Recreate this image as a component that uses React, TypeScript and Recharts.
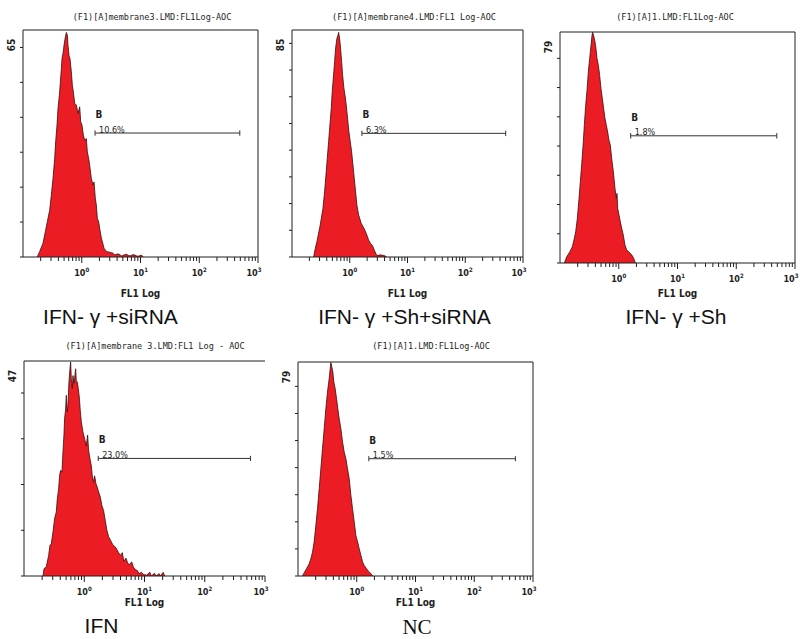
import { AreaChart, Area, XAxis, YAxis, ReferenceLine } from 'recharts';

// log10(FL1) positions and event counts
const ifnSirnaLog = [-0.76, -0.745, -0.716, -0.66, -0.62, -0.586, -0.546, -0.518, -0.489, -0.461, -0.444, -0.421, -0.404, -0.376, -0.347, -0.336, -0.319, -0.302, -0.279, -0.262, -0.245, -0.234, -0.217, -0.2, -0.177, -0.16, -0.143, -0.12, -0.092, -0.064, -0.035, -0.018, 0.004, 0.027, 0.05, 0.078, 0.095, 0.118, 0.135, 0.163, 0.192, 0.209, 0.231, 0.248, 0.265, 0.288, 0.305, 0.334, 0.351, 0.379, 0.419, 0.532, 0.56, 0.62, 0.68, 0.75, 0.82, 0.88, 0.95, 1.02, 1.05];
const ifnSirnaCount = [0, 0.5, 1.6, 3.9, 7.2, 10.1, 13.4, 17.7, 22.5, 28.2, 33.0, 37.8, 42.5, 47.3, 54.0, 56.8, 58.3, 60.6, 63.0, 64.3, 63.5, 60.6, 57.7, 56.8, 53.0, 49.2, 47.3, 44.0, 43.5, 41.1, 43.0, 38.7, 37.8, 34.9, 33.4, 33.9, 30.1, 28.2, 26.3, 22.5, 20.6, 21.5, 16.8, 14.9, 11.1, 10.1, 8.2, 5.4, 4.4, 2.5, 1.6, 1.1, 0.6, 0.9, 0.3, 0.8, 0.3, 0.7, 0.2, 0.5, 0];

const ifnShSirnaLog = [-0.626, -0.597, -0.568, -0.511, -0.464, -0.436, -0.412, -0.389, -0.366, -0.343, -0.32, -0.303, -0.28, -0.262, -0.245, -0.222, -0.205, -0.193, -0.176, -0.159, -0.141, -0.124, -0.101, -0.078, -0.061, -0.038, -0.015, 0.009, 0.032, 0.055, 0.078, 0.101, 0.124, 0.153, 0.199, 0.245, 0.285, 0.326, 0.36, 0.395, 0.43, 0.47, 0.528, 0.603, 0.643];
const ifnShSirnaCount = [0, 3.2, 5.8, 12.0, 18.2, 24.4, 30.7, 37.0, 43.2, 49.5, 55.7, 61.9, 68.2, 73.2, 78.2, 81.9, 82.9, 84.1, 81.9, 78.2, 73.2, 68.2, 63.2, 60.0, 56.9, 51.9, 46.9, 43.2, 39.5, 34.5, 29.5, 24.4, 19.4, 15.8, 12.6, 10.8, 8.9, 6.4, 5.1, 4.2, 2.3, 0.5, 0.8, 0.5, 0];

const ifnShLog = [-0.926, -0.886, -0.83, -0.79, -0.756, -0.733, -0.705, -0.676, -0.654, -0.631, -0.603, -0.586, -0.563, -0.54, -0.518, -0.495, -0.472, -0.455, -0.444, -0.421, -0.404, -0.387, -0.37, -0.347, -0.325, -0.302, -0.279, -0.257, -0.234, -0.211, -0.189, -0.166, -0.143, -0.12, -0.092, -0.064, -0.041, -0.03, -0.018, 0.004, 0.027, 0.05, 0.078, 0.106, 0.135, 0.175, 0.22, 0.254, 0.277, 0.288];
const ifnShCount = [0, 2.1, 3.9, 5.6, 8.4, 10.7, 15.2, 22.1, 27.8, 33.5, 41.4, 47.1, 53.9, 59.1, 65.3, 69.9, 74.4, 77.9, 78.9, 77.2, 75.6, 73.2, 69.9, 67.6, 64.2, 59.6, 56.2, 52.8, 49.4, 47.1, 44.8, 42.0, 40.3, 35.7, 31.2, 25.5, 22.1, 23.8, 18.7, 16.4, 14.1, 11.9, 9.5, 6.1, 4.5, 3.7, 2.8, 1.6, 0.3, 0];

const ifnLog = [-0.685, -0.668, -0.63, -0.591, -0.569, -0.547, -0.519, -0.491, -0.464, -0.447, -0.425, -0.409, -0.392, -0.37, -0.353, -0.337, -0.326, -0.309, -0.298, -0.281, -0.27, -0.254, -0.237, -0.226, -0.215, -0.198, -0.187, -0.171, -0.16, -0.143, -0.132, -0.116, -0.099, -0.082, -0.066, -0.049, -0.022, 0.006, 0.034, 0.056, 0.072, 0.094, 0.116, 0.133, 0.155, 0.172, 0.194, 0.216, 0.238, 0.266, 0.293, 0.321, 0.349, 0.376, 0.404, 0.437, 0.47, 0.504, 0.537, 0.57, 0.603, 0.631, 0.658, 0.692, 0.725, 0.758, 0.786, 0.813, 0.846, 0.88, 0.913, 0.946, 0.99, 1.034, 1.09, 1.112, 1.167, 1.189, 1.244, 1.266, 1.311, 1.333];
const ifnCount = [0, 1.6, 2.0, 4.5, 6.7, 7.0, 9.6, 12.6, 14.0, 16.9, 19.1, 22.0, 23.1, 22.7, 27.1, 30.8, 34.4, 36.5, 39.5, 35.9, 37.3, 42.4, 45.3, 46.8, 43.2, 41.0, 43.8, 42.1, 43.2, 45.3, 42.7, 42.4, 41.0, 39.1, 36.2, 33.7, 31.5, 30.0, 28.4, 30.8, 27.5, 25.7, 24.2, 21.9, 20.5, 21.9, 20.2, 19.4, 18.4, 17.3, 15.4, 14.3, 12.1, 10.0, 8.6, 7.8, 6.9, 6.5, 5.9, 5.1, 4.5, 5.1, 3.2, 3.9, 2.7, 2.5, 3.1, 2.0, 1.4, 1.2, 0.5, 0.8, 0.3, 0.2, 0.8, 0, 0.6, 0, 0.5, 0, 0.8, 0];

const ncLog = [-0.923, -0.895, -0.855, -0.81, -0.781, -0.753, -0.725, -0.696, -0.668, -0.639, -0.611, -0.583, -0.554, -0.526, -0.498, -0.469, -0.452, -0.441, -0.424, -0.407, -0.39, -0.367, -0.344, -0.322, -0.299, -0.27, -0.242, -0.214, -0.185, -0.157, -0.128, -0.1, -0.072, -0.043, -0.015, 0.014, 0.042, 0.07, 0.099, 0.127, 0.167, 0.201, 0.241, 0.27];
const ncCount = [0, 1.2, 2.7, 4.5, 6.4, 8.8, 12.6, 18.7, 24.9, 32.3, 39.6, 47.0, 54.4, 61.7, 67.9, 72.9, 76.5, 78.8, 77.2, 75.3, 71.6, 69.1, 65.5, 61.7, 58.1, 54.4, 49.5, 45.8, 43.3, 39.6, 35.9, 29.8, 24.9, 20.0, 15.0, 12.6, 10.1, 7.7, 5.2, 3.9, 2.7, 1.7, 0.9, 0];

const panelTitles = [
  '(F1)[A]membrane3.LMD:FL1Log-AOC',
  '(F1)[A]membrane4.LMD:FL1 Log-AOC',
  '(F1)[A]1.LMD:FL1Log-AOC',
  '(F1)[A]membrane 3.LMD:FL1 Log - AOC',
  '(F1)[A]1.LMD:FL1Log-AOC',
];
const captions = ['IFN- γ +siRNA', 'IFN- γ +Sh+siRNA', 'IFN- γ +Sh', 'IFN', 'NC'];
const yMaxes = [65, 85, 79, 47, 79];
const gatePercents = ['10.6%', '6.3%', '1.8%', '23.0%', '1.5%'];
const gateLo = [0.226, 0.211, 0.203, 0.232, 0.206];
const gateHi = [2.69, 2.7, 2.69, 2.76, 2.7];
const gateLevel = [35.5, 46.3, 43.5, 25.7, 43.3];
const decadeLabels = ['0', '1', '2', '3'];

const seriesLogs = [ifnSirnaLog, ifnShSirnaLog, ifnShLog, ifnLog, ncLog];
const seriesCounts = [ifnSirnaCount, ifnShSirnaCount, ifnShCount, ifnCount, ncCount];

// plot boxes in page pixels
const boxes = [
  { left: 23, top: 30, right: 258, bottom: 257, rightBorder: true },
  { left: 292, top: 30, right: 523, bottom: 257, rightBorder: true },
  { left: 560, top: 32, right: 795, bottom: 263, rightBorder: true },
  { left: 24, top: 361, right: 265, bottom: 576, rightBorder: false },
  { left: 298, top: 362, right: 533, bottom: 576, rightBorder: true },
];
const titlePos = [[152, 19.5], [414, 19.5], [675, 19.5], [155, 349], [431, 349]];
const captionPos = [[110.5, 324], [404.5, 324], [676, 324], [101.5, 633], [417, 634]];

const RED = '#ec1c24';
const INK = '#1e1e1e';
const NARROW = "'Liberation Sans Narrow', 'Arial Narrow', 'DejaVu Sans Condensed', Arial, sans-serif";
const YW = 30;
const MT = 6;
const MR = 10;
const XH = 46;

const minorTicks: number[] = [];
for (let d = -1; d < 3; d++) for (let k = 2; k <= 9; k++) minorTicks.push(d + Math.log10(k));
const xTicks = [...minorTicks, 0, 1, 2, 3].sort((a, b) => a - b);

const XTick = (props: any) => {
  const { x, y, payload } = props;
  const v = payload.value;
  const major = Math.abs(v - Math.round(v)) < 1e-9;
  const idx = Math.round(v);
  return (
    <g>
      <line x1={x} x2={x} y1={y} y2={y + (major ? 6 : 4)} stroke={INK} strokeWidth={1} />
      {major && (
        <text x={idx === 3 ? x - 4 : x} y={y + 19} textAnchor="middle" fontFamily={NARROW} fontWeight="bold" fontSize={9} fill={INK}>
          10<tspan dy={-4} fontSize={6}>{decadeLabels[idx]}</tspan>
        </text>
      )}
    </g>
  );
};

const makeYTick = (max: number) => (props: any) => {
  const { x, y, payload } = props;
  if (payload.value === max) {
    return (
      <text transform={`translate(${x - 12},${y + 15}) rotate(-90)`} textAnchor="middle" dominantBaseline="central" fontFamily={NARROW} fontWeight="bold" fontSize={10} fill={INK}>
        {max}
      </text>
    );
  }
  return <line x1={x - 3} x2={x} y1={y} y2={y} stroke={INK} strokeWidth={1} />;
};

const gateLabel = (pct: string) => (props: any) => {
  const vb = props.viewBox || {};
  return (
    <g>
      <text x={vb.x + 0.5} y={vb.y - 15} fontFamily={NARROW} fontWeight="bold" fontSize={10} fill={INK}>B</text>
      <text x={vb.x + 4} y={vb.y - 0.5} fontFamily={NARROW} fontSize={9} fill={INK}>{pct}</text>
    </g>
  );
};

const fl1Label = (off: number) => (props: any) => {
  const vb = props.viewBox || {};
  return (
    <text x={vb.x + vb.width / 2} y={vb.y + off} textAnchor="middle" fontFamily={NARROW} fontWeight="bold" fontSize={10} fill={INK}>
      FL1 Log
    </text>
  );
};

const Histogram = ({ i }: { i: number }) => {
  const box = boxes[i];
  const max = yMaxes[i];
  const data = seriesLogs[i].map((x, j) => ({ x, y: seriesCounts[i][j] }));
  const yTicks: number[] = [];
  for (let t = 0; t < max; t += 10) yTicks.push(t);
  yTicks.push(max);
  const w = box.right - box.left + YW + MR;
  const h = box.bottom - box.top + MT + XH;
  const cap = max * 0.012;
  const lo = gateLo[i];
  const hi = gateHi[i];
  const g = gateLevel[i];
  const fl1Baseline = i < 2 ? 40 : i === 2 ? 34 : 30;
  return (
    <div style={{ position: 'absolute', left: box.left - YW, top: box.top - MT }}>
      <AreaChart width={w} height={h} data={data} margin={{ top: MT, right: MR, left: 0, bottom: 0 }}>
        <XAxis
          type="number"
          dataKey="x"
          domain={[-1, 3]}
          allowDataOverflow
          ticks={xTicks}
          interval={0}
          tickSize={0}
          tickMargin={0}
          tickLine={false}
          tick={<XTick />}
          height={XH}
          axisLine={{ stroke: INK }}
          label={fl1Label(fl1Baseline)}
        />
        <YAxis
          type="number"
          domain={[0, max]}
          allowDataOverflow
          ticks={yTicks}
          interval={0}
          tickSize={0}
          tickMargin={0}
          tickLine={false}
          tick={makeYTick(max)}
          width={YW}
          axisLine={{ stroke: INK }}
        />
        <ReferenceLine y={max} stroke={INK} strokeWidth={1} />
        {box.rightBorder && <ReferenceLine x={3} stroke={INK} strokeWidth={1} />}
        <Area
          type="linear"
          dataKey="y"
          fill={RED}
          fillOpacity={1}
          stroke="#3a0c0c"
          strokeWidth={0.8}
          dot={false}
          activeDot={false}
          isAnimationActive={false}
        />
        <ReferenceLine segment={[{ x: lo, y: g }, { x: hi, y: g }]} stroke="#333" strokeWidth={1} label={gateLabel(gatePercents[i])} />
        <ReferenceLine segment={[{ x: lo, y: g - cap }, { x: lo, y: g + cap }]} stroke="#333" strokeWidth={1} />
        <ReferenceLine segment={[{ x: hi, y: g - cap }, { x: hi, y: g + cap }]} stroke="#333" strokeWidth={1} />
      </AreaChart>
    </div>
  );
};

export default function App() {
  return (
    <div style={{ position: 'absolute', left: 0, top: 0, width: 800, height: 639, background: '#fff', overflow: 'hidden' }}>
      {boxes.map((_, i) => (
        <Histogram key={i} i={i} />
      ))}
      <svg width={800} height={639} style={{ position: 'absolute', left: 0, top: 0, pointerEvents: 'none' }}>
        {panelTitles.map((t, i) => (
          <text key={t + i} x={titlePos[i][0]} y={titlePos[i][1]} textAnchor="middle" fontFamily="'DejaVu Sans Mono', monospace" fontSize={8.5} fill={INK}>
            {t}
          </text>
        ))}
        {captions.map((c, i) => (
          <text
            key={c}
            x={captionPos[i][0]}
            y={captionPos[i][1]}
            textAnchor="middle"
            fontFamily={i === 4 ? "'Liberation Serif', serif" : "'Liberation Sans', Arial, sans-serif"}
            fontSize={21}
            fill="#111"
          >
            {c}
          </text>
        ))}
      </svg>
    </div>
  );
}
